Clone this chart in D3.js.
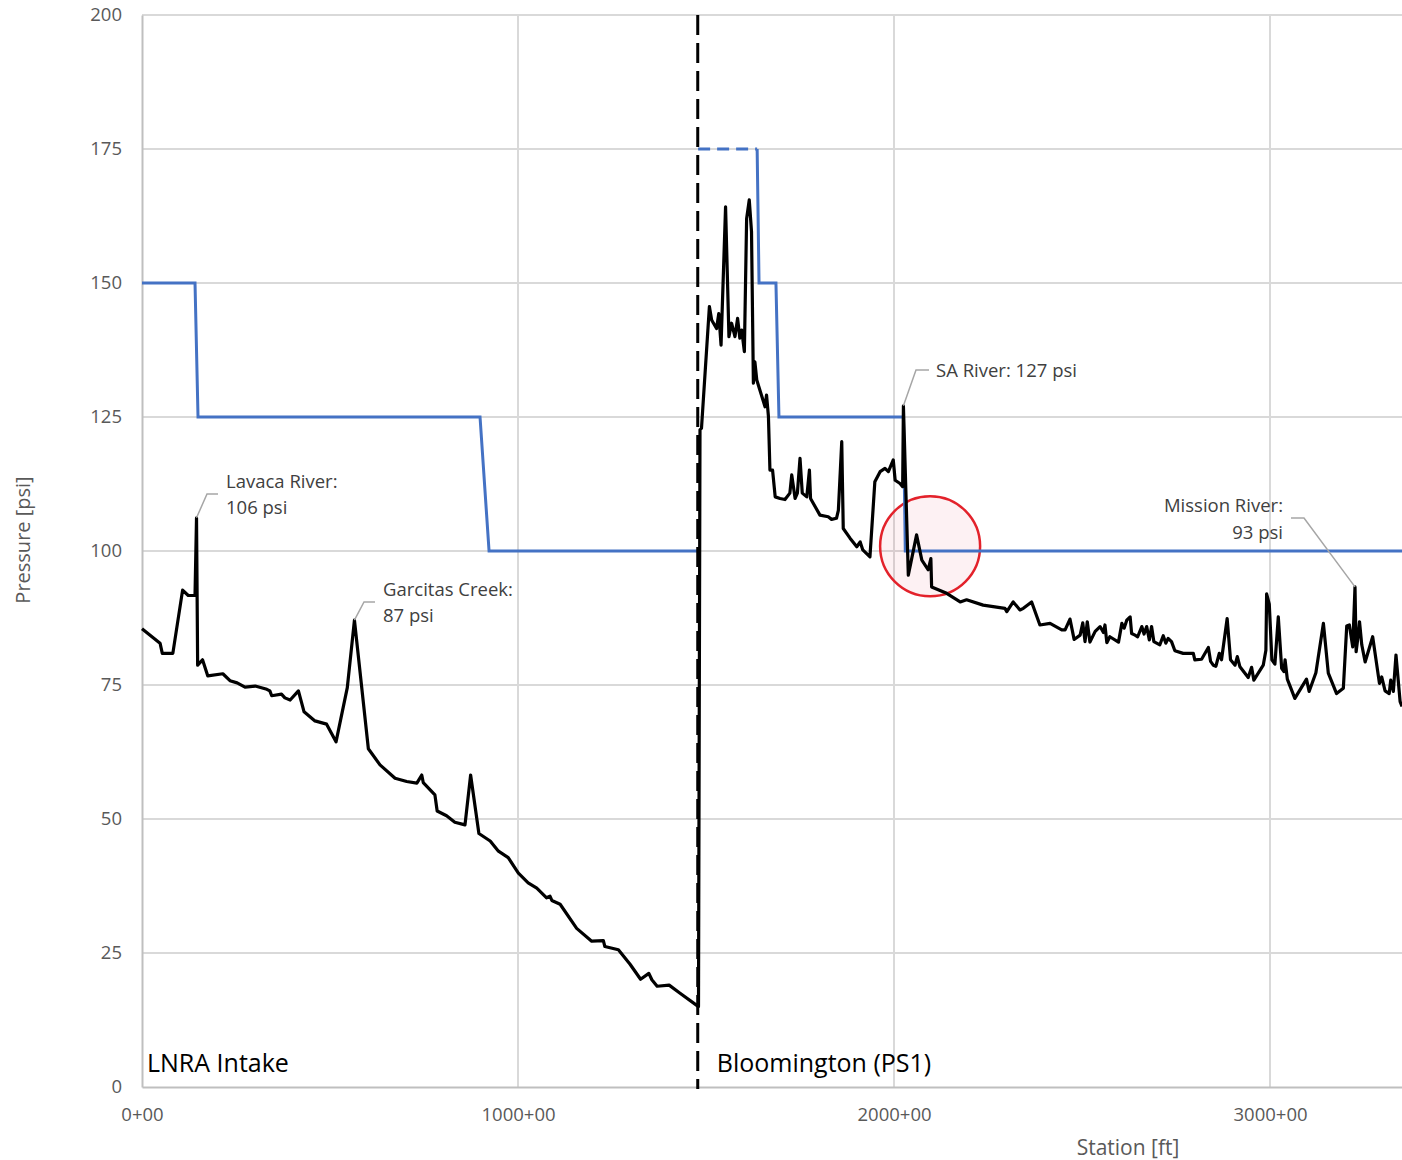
<!DOCTYPE html>
<html>
<head>
<meta charset="utf-8">
<script src="https://cdn.jsdelivr.net/npm/d3@7"></script>
<style>
  body { margin: 0; background: #fff; }
  svg { display: block; font-family: "Open Sans", sans-serif; }
</style>
</head>
<body>
<div id="chart"></div>
<script>
// pressure profile along the pipeline [station, psi]
var pressureProfile = [
  [0, 85.5], [48, 82.8], [54, 80.9], [82, 80.9], [108, 92.7], [123, 91.7], [141, 91.7],
  [145, 106.2], [148, 78.7], [161, 79.7], [175, 76.7], [215, 77.1], [234, 75.8],
  [253, 75.4], [274, 74.6], [301, 74.8], [332, 74.2], [340, 73.9], [345, 73.0],
  [371, 73.3], [380, 72.6], [394, 72.2], [416, 73.9], [431, 70.0], [460, 68.3],
  [491, 67.7], [516, 64.4], [546, 74.5], [565, 87.1], [602, 63.1], [633, 60.1],
  [673, 57.6], [704, 57.0], [731, 56.7], [744, 58.2], [748, 56.8], [779, 54.5],
  [785, 51.5], [810, 50.6], [832, 49.4], [859, 48.9], [874, 58.2], [896, 47.3],
  [926, 45.9], [948, 44.0], [974, 42.8], [1001, 39.9], [1027, 38.1], [1050, 37.1],
  [1076, 35.3], [1085, 35.6], [1090, 34.8], [1112, 34.1], [1156, 29.6], [1196, 27.2],
  [1227, 27.3], [1231, 26.2], [1267, 25.6], [1298, 22.9], [1326, 20.1], [1348, 21.2],
  [1356, 20.0], [1370, 18.8], [1402, 19.0], [1431, 17.5], [1480, 15.0],
  [1484, 122.6], [1488, 122.9], [1509, 145.6], [1515, 143.1], [1528, 141.5],
  [1534, 144.3], [1540, 138.4], [1552, 164.2], [1561, 140.0], [1568, 142.5],
  [1577, 140.0], [1584, 143.4], [1590, 139.7], [1595, 141.2], [1602, 137.2],
  [1608, 162.0], [1615, 165.5], [1621, 159.6], [1626, 131.3], [1630, 135.3],
  [1635, 131.9], [1657, 126.9], [1661, 129.1], [1666, 125.1], [1670, 115.1],
  [1677, 115.1], [1684, 110.1], [1697, 109.8], [1710, 109.6], [1723, 110.8],
  [1728, 114.2], [1737, 109.8], [1743, 110.8], [1750, 117.3], [1756, 110.8],
  [1768, 110.1], [1775, 115.1], [1778, 109.8], [1803, 106.7], [1825, 106.4],
  [1834, 105.9], [1847, 106.1], [1852, 107.6], [1861, 120.4], [1865, 104.2],
  [1883, 102.4], [1901, 100.8], [1910, 101.7], [1917, 100.2], [1936, 98.9],
  [1949, 112.9], [1963, 114.8], [1976, 115.4], [1985, 114.8], [1998, 117.0],
  [2003, 113.2], [2016, 112.6], [2023, 112.0], [2025, 127.1], [2038, 95.5],
  [2060, 103.0], [2074, 98.3], [2091, 96.5], [2098, 98.6], [2100, 93.3],
  [2140, 92.1], [2176, 90.5], [2193, 90.9], [2237, 89.9], [2295, 89.3],
  [2300, 88.7], [2317, 90.5], [2335, 89.0], [2344, 89.3], [2366, 90.5],
  [2388, 86.2], [2415, 86.5], [2446, 85.3], [2455, 85.3], [2468, 87.3],
  [2479, 83.5], [2495, 84.3], [2502, 86.6], [2508, 83.1], [2514, 86.8],
  [2521, 83.0], [2535, 85.0], [2548, 85.9], [2557, 84.8], [2561, 86.2],
  [2566, 82.9], [2574, 84.0], [2597, 83.0], [2606, 86.5], [2612, 85.6],
  [2619, 87.1], [2628, 87.7], [2632, 84.6], [2641, 84.3], [2648, 84.0],
  [2659, 85.9], [2665, 84.5], [2672, 85.9], [2679, 83.4], [2685, 85.9],
  [2691, 83.1], [2707, 82.5], [2716, 84.2], [2723, 82.8], [2729, 83.7],
  [2738, 83.1], [2747, 81.4], [2769, 80.9], [2796, 80.9], [2800, 79.7],
  [2818, 79.8], [2836, 82.0], [2842, 79.4], [2849, 78.7], [2856, 78.5],
  [2865, 80.9], [2871, 79.7], [2886, 87.4], [2895, 79.7], [2907, 78.7],
  [2913, 80.3], [2920, 78.4], [2942, 76.4], [2951, 78.3], [2957, 75.9],
  [2982, 78.7], [2989, 81.5], [2991, 92.0], [2998, 90.1], [3005, 79.7],
  [3013, 78.9], [3022, 87.7], [3031, 78.1], [3037, 77.5], [3040, 79.7],
  [3046, 76.1], [3066, 72.5], [3097, 76.1], [3104, 73.8], [3122, 77.3],
  [3142, 86.5], [3155, 77.2], [3177, 73.4], [3195, 74.4], [3204, 86.0],
  [3211, 86.2], [3220, 82.1], [3226, 93.3], [3229, 81.2], [3235, 84.6],
  [3238, 86.8], [3244, 82.5], [3253, 79.3], [3273, 84.0], [3291, 75.3],
  [3297, 76.5], [3306, 73.9], [3317, 73.4], [3321, 75.9], [3328, 73.8],
  [3335, 80.6], [3346, 71.9], [3351, 71.0]
];

// pipe pressure rating, two sections
var ratingWest = [[0, 150], [141, 150], [149, 125], [899, 125], [923, 100], [1477, 100]];
var ratingEast = [[1636, 175], [1641, 150], [1686, 150], [1694, 125], [2025, 125], [2030, 100], [3360, 100]];
var ratingEastDashed = [[1479, 175], [1636, 175]];

var pumpStation = 1478;
var yTicks = [0, 25, 50, 75, 100, 125, 150, 175, 200];
var xTicks = [0, 1000, 2000, 3000];

var callouts = [
  {x: 145, y: 106.2, lines: ["Lavaca River:", "106 psi"], elbow: [207, 494], end: [218, 494], tx: 226, ty: [482, 508], anchor: "start"},
  {x: 565, y: 87.1, lines: ["Garcitas Creek:", "87 psi"], elbow: [364, 602], end: [375, 602], tx: 383, ty: [590, 616], anchor: "start"},
  {x: 2025, y: 127.1, lines: ["SA River: 127 psi"], elbow: [916, 370], end: [929, 370], tx: 936, ty: [371], anchor: "start"},
  {x: 3226, y: 93.3, lines: ["Mission River:", "93 psi"], elbow: [1304, 518], end: [1291, 518], tx: 1283, ty: [506, 533], anchor: "end"}
];

var siteLabels = [
  {x: 0, name: "LNRA Intake"},
  {x: pumpStation, name: "Bloomington (PS1)"}
];

var highlight = {x: 2096, y: 100.9, r: 50};

var W = 1402, H = 1160;
var margin = {top: 15, right: 0, bottom: 73, left: 142};

var x = d3.scaleLinear().domain([0, 3351]).range([margin.left, W - margin.right]);
var y = d3.scaleLinear().domain([0, 200]).range([H - margin.bottom, margin.top]);

var svg = d3.select("#chart").append("svg")
    .attr("width", W)
    .attr("height", H);

// gridlines
svg.append("g").selectAll("line.h")
    .data(yTicks.filter(function(d) { return d > 0; }))
  .enter().append("line")
    .attr("x1", x(0)).attr("x2", W)
    .attr("y1", function(d) { return y(d); })
    .attr("y2", function(d) { return y(d); })
    .style("stroke", "#d9d9d9").style("stroke-width", 2);

svg.append("g").selectAll("line.v")
    .data(xTicks.filter(function(d) { return d > 0; }))
  .enter().append("line")
    .attr("x1", function(d) { return x(d); })
    .attr("x2", function(d) { return x(d); })
    .attr("y1", y(200)).attr("y2", y(0))
    .style("stroke", "#d9d9d9").style("stroke-width", 2);

// axes
var yAxis = svg.append("g")
    .attr("transform", "translate(" + x(0) + ",0)")
    .call(d3.axisLeft(y).tickValues(yTicks).tickSize(0).tickPadding(20));
var xAxis = svg.append("g")
    .attr("transform", "translate(0," + y(0) + ")")
    .call(d3.axisBottom(x).tickValues(xTicks).tickSize(0).tickPadding(21)
      .tickFormat(function(d) { return d + "+00"; }));

[yAxis, xAxis].forEach(function(a) {
  a.select(".domain").style("stroke", "#bfbfbf").style("stroke-width", 2);
  a.selectAll("text")
    .style("font-family", "'Open Sans', sans-serif")
    .style("font-size", "18.5px")
    .style("fill", "#595959");
});

svg.append("text")
    .attr("transform", "translate(30," + 540 + ") rotate(-90)")
    .style("text-anchor", "middle")
    .style("font-size", "20px")
    .style("fill", "#595959")
    .text("Pressure [psi]");

svg.append("text")
    .attr("x", 1128).attr("y", 1155)
    .style("text-anchor", "middle")
    .style("font-size", "21px")
    .style("fill", "#595959")
    .text("Station [ft]");

// highlight circle
svg.append("circle")
    .attr("cx", x(highlight.x))
    .attr("cy", y(highlight.y))
    .attr("r", highlight.r)
    .style("fill", "rgba(220, 60, 90, 0.07)")
    .style("stroke", "#e3222b")
    .style("stroke-width", 2.5);

var line = d3.line()
    .x(function(d) { return x(d[0]); })
    .y(function(d) { return y(d[1]); });

[ratingWest, ratingEast].forEach(function(s) {
  svg.append("path")
      .datum(s)
      .attr("d", line)
      .style("fill", "none")
      .style("stroke", "#4472c4")
      .style("stroke-width", 3);
});
svg.append("path")
    .datum(ratingEastDashed)
    .attr("d", line)
    .style("fill", "none")
    .style("stroke", "#4472c4")
    .style("stroke-width", 3)
    .style("stroke-dasharray", "12,7");

svg.append("path")
    .datum(pressureProfile)
    .attr("d", line)
    .style("fill", "none")
    .style("stroke", "#000")
    .style("stroke-width", 3.2)
    .style("stroke-linejoin", "round");

// pump station divider
svg.append("line")
    .attr("x1", x(pumpStation)).attr("x2", x(pumpStation))
    .attr("y1", y(200)).attr("y2", y(0) + 2)
    .style("stroke", "#000")
    .style("stroke-width", 3)
    .style("stroke-dasharray", "20,8");

// callouts
callouts.forEach(function(c) {
  svg.append("polyline")
      .attr("points", [[x(c.x), y(c.y)], c.elbow, c.end].map(function(p) { return p.join(","); }).join(" "))
      .style("fill", "none")
      .style("stroke", "#a6a6a6")
      .style("stroke-width", 1.5);
  c.lines.forEach(function(t, i) {
    svg.append("text")
        .attr("x", c.tx).attr("y", c.ty[i])
        .attr("dy", "0.35em")
        .style("text-anchor", c.anchor)
        .style("font-size", "18.5px")
        .style("fill", "#404040")
        .text(t);
  });
});

svg.selectAll("text.site")
    .data(siteLabels)
  .enter().append("text")
    .attr("class", "site")
    .attr("x", function(d) { return x(d.x) + (d.x === 0 ? 5 : 19); })
    .attr("y", 1063)
    .attr("dy", "0.35em")
    .style("font-size", "25px")
    .style("fill", "#000")
    .text(function(d) { return d.name; });
</script>
</body>
</html>
